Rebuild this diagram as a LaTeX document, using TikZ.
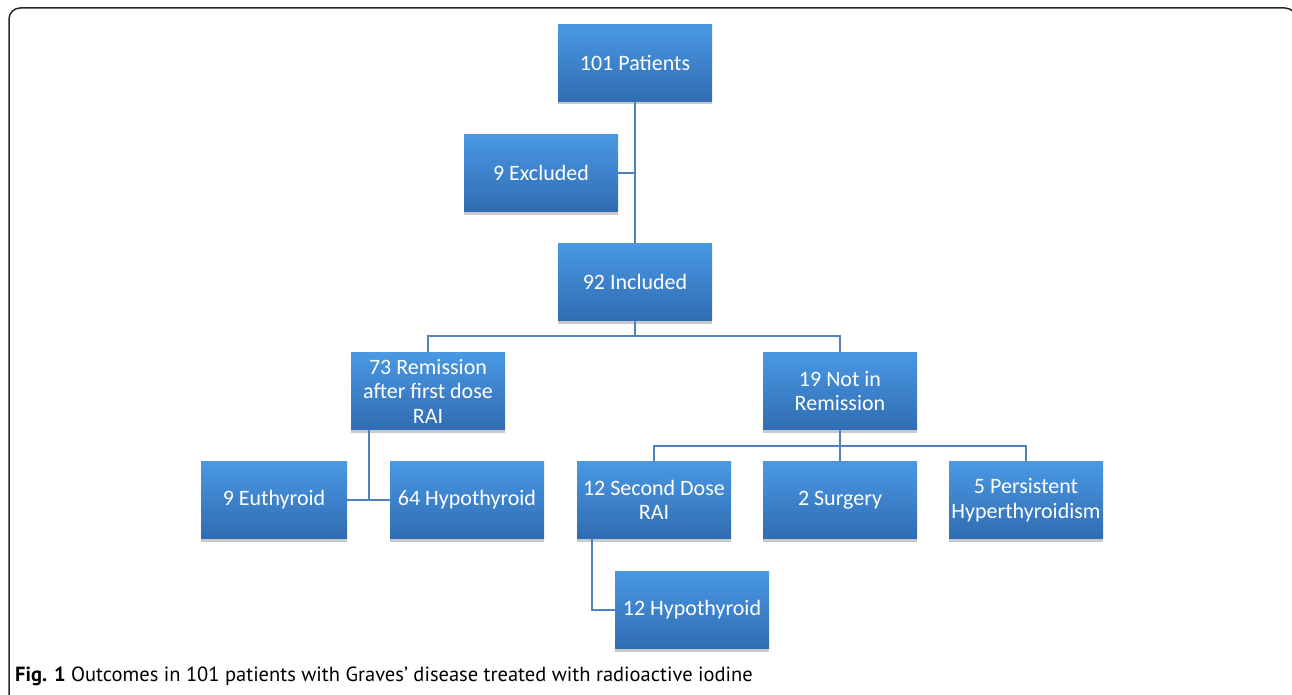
\documentclass[tikz,border=0pt]{standalone}
\usepackage{fontspec}
\setmainfont{Carlito}
\newfontfamily\capfont{PT Sans}
\usetikzlibrary{shadows}
\definecolor{boxtop}{RGB}{74,152,228}
\definecolor{boxbot}{RGB}{48,108,178}
\definecolor{conn}{RGB}{79,129,189}
\definecolor{framec}{RGB}{40,40,40}
\tikzset{
  box/.style={rectangle, minimum width=154pt, minimum height=77pt, inner sep=2pt,
    top color=boxtop, bottom color=boxbot, text=white, align=center,
    font=\fontsize{22}{24.5}\selectfont,
    drop shadow={shadow xshift=0pt, shadow yshift=-3pt, opacity=0.3, fill=black!70}},
  conn/.style={draw=conn, line width=1.4pt},
}
\begin{document}
\begin{tikzpicture}[x=1pt,y=-1pt]
\useasboundingbox (0,0) rectangle (1292,695);
\draw[framec, line width=1.5pt, rounded corners=11pt] (9,700) -- (9,8) -- (1296,8) -- (1296,700);

\node[box] (p101) at (635,63) {101 Patients};
\node[box] (excl) at (541,173) {9 Excluded};
\node[box] (incl) at (635,282) {92 Included};
\node[box] (rem) at (428,391) {73 Remission\\after first dose\\RAI};
\node[box] (notrem) at (840,391) {19 Not in\\Remission};
\node[box, minimum width=146pt] (euth) at (274,500) {9 Euthyroid};
\node[box] (hypo64) at (467,500) {64 Hypothyroid};
\node[box] (second) at (654,500) {12 Second Dose\\RAI};
\node[box] (surg) at (840,500) {2 Surgery};
\node[box] (pers) at (1026,500) {5 Persistent\\Hyperthyroidism};
\node[box] (hypo12) at (692,610) {12 Hypothyroid};

\coordinate (j1) at (635,173);
\coordinate (b1) at (635,336);
\coordinate (r1) at (369,500);
\coordinate (b2) at (840,446);
\coordinate (s1) at (592,610);

\draw[conn] (p101.south) -- (incl.north);
\draw[conn] (excl.east) -- (j1);
\draw[conn] (incl.south) -- (b1);
\draw[conn] (b1) -| (rem.north);
\draw[conn] (b1) -| (notrem.north);
\draw[conn] (rem.south -| r1) -- (r1);
\draw[conn] (euth.east) -- (hypo64.west);
\draw[conn] (notrem.south) -- (b2);
\draw[conn] (b2) -| (second.north);
\draw[conn] (b2) -- (surg.north);
\draw[conn] (b2) -| (pers.north);
\draw[conn] (second.south -| s1) -- (s1) -- (hypo12.west);

\node[anchor=base west, inner sep=0pt, font=\capfont\fontsize{20.5}{24}\selectfont] (cap) at (15,681)
  {\textbf{Fig. 1} Outcomes in 101 patients with Graves’ disease treated with radioactive iodine};
\end{tikzpicture}
\end{document}
